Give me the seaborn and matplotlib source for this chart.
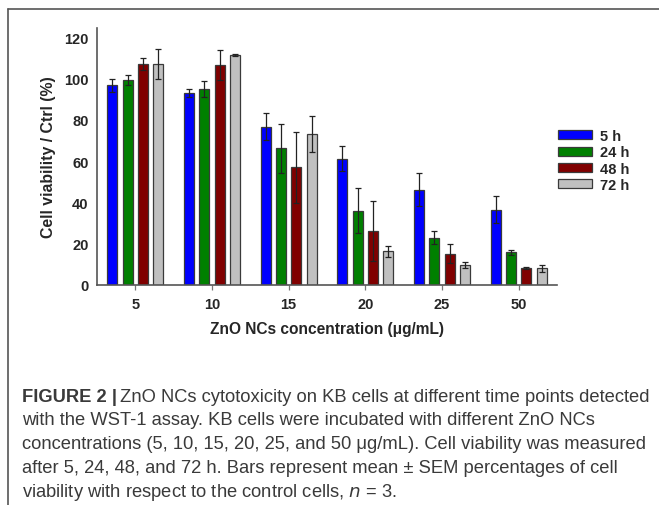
import numpy as np
import pandas as pd
import seaborn as sns
import matplotlib.pyplot as plt
from matplotlib.lines import Line2D

# Values (mean and SEM, % of control)
concentrations = ["5", "10", "15", "20", "25", "50"]
times = ["5 h", "24 h", "48 h", "72 h"]
mean_5h = [96.6, 93.0, 76.7, 61.2, 46.2, 36.5]
mean_24h = [99.2, 95.0, 66.2, 36.0, 22.9, 15.8]
mean_48h = [106.9, 106.6, 56.9, 26.2, 15.2, 8.1]
mean_72h = [107.0, 111.3, 72.9, 16.3, 9.7, 8.1]
sem_5h = [3.3, 1.9, 6.4, 6.1, 7.8, 6.6]
sem_24h = [2.6, 3.8, 11.8, 10.9, 3.0, 1.2]
sem_48h = [3.0, 7.2, 17.0, 14.6, 4.6, 0.5]
sem_72h = [7.3, 0.6, 8.7, 2.8, 1.5, 1.8]

means = [mean_5h, mean_24h, mean_48h, mean_72h]
sems = [sem_5h, sem_24h, sem_48h, sem_72h]

df = pd.DataFrame({
    "conc": np.tile(concentrations, len(times)),
    "time": np.repeat(times, len(concentrations)),
    "viability": np.concatenate(means),
})

palette = {"5 h": "#0000FF", "24 h": "#008000", "48 h": "#800000", "72 h": "#C0C0C0"}

sns.set_style("white")
plt.rcParams["font.family"] = ["Liberation Sans", "DejaVu Sans"]

fig = plt.figure(figsize=(6.59, 5.06), dpi=100)
ax = fig.add_axes([97 / 659, 1 - 286 / 506, 460 / 659, 257 / 506])

sns.barplot(
    data=df, x="conc", y="viability", hue="time",
    order=concentrations, hue_order=times, palette=palette,
    width=0.8, gap=0.35, errorbar=None,
    edgecolor="#3a3a3a", linewidth=0.9, saturation=1, ax=ax,
)

# SEM error bars on top of each bar
for container, err in zip(ax.containers, sems):
    xs = [b.get_x() + b.get_width() / 2 for b in container]
    ys = [b.get_height() for b in container]
    ax.errorbar(xs, ys, yerr=err, fmt="none", ecolor="#222222",
                elinewidth=0.9, capsize=2.2, capthick=0.9)

ax.set_xlim(-0.5, 5.5)
ax.set_ylim(0, 124.4)
ax.set_yticks(range(0, 121, 20))
ax.tick_params(axis="y", length=0, pad=6, labelsize=10.5)
ax.tick_params(axis="x", length=3.5, width=0.9, color="#777777", pad=5, labelsize=10.5, bottom=True)
for lab in ax.get_xticklabels() + ax.get_yticklabels():
    lab.set_fontweight("bold")

for side in ["top", "right"]:
    ax.spines[side].set_visible(False)
for side in ["left", "bottom"]:
    ax.spines[side].set_color("#555555")
    ax.spines[side].set_linewidth(1.2)

ax.set_ylabel("Cell viability / Ctrl (%)", fontsize=11.4, fontweight="bold", labelpad=6)
ax.set_xlabel("ZnO NCs concentration (\u03bcg/mL)", fontsize=11.2, fontweight="bold", labelpad=7)

handles, labels = ax.get_legend_handles_labels()
ax.legend(handles, labels, loc="upper left", bbox_to_anchor=(558 / 659, 1 - 130 / 506),
          bbox_transform=fig.transFigure, frameon=False, borderpad=0, borderaxespad=0,
          handlelength=2.3, handleheight=0.6, handletextpad=0.6, labelspacing=0.16,
          prop={"weight": "bold", "size": 10.5})

# figure frame (top and left rules)
fig.add_artist(Line2D([8 / 659, 1], [1 - 10 / 506, 1 - 10 / 506], color="#555555", lw=1.2))
fig.add_artist(Line2D([8 / 659, 8 / 659], [0, 1 - 10 / 506], color="#555555", lw=1.2))

# caption
cap_kw = dict(fontsize=13.2, color="#3a3a3a", va="center", ha="left")
cap_lines = [
    "with the WST-1 assay. KB cells were incubated with different ZnO NCs",
    "concentrations (5, 10, 15, 20, 25, and 50 \u03bcg/mL). Cell viability was measured",
    "after 5, 24, 48, and 72 h. Bars represent mean \u00b1 SEM percentages of cell",
]
x0 = 22 / 659
t_bold = fig.text(x0, 1 - 397 / 506, "FIGURE 2 |", fontweight="bold", **cap_kw)
fig.canvas.draw()
bb = t_bold.get_window_extent(renderer=fig.canvas.get_renderer())
fig.text(bb.x1 / (6.59 * 100) + 0.004, 1 - 397 / 506,
         "ZnO NCs cytotoxicity on KB cells at different time points detected", **cap_kw)
for i, line in enumerate(cap_lines):
    fig.text(x0, 1 - (421 + 24 * i) / 506, line, **cap_kw)
fig.text(x0, 1 - 493 / 506, "viability with respect to the control cells, $\\it{n}$ = 3.", **cap_kw)

fig.savefig("out.png", dpi=100)
